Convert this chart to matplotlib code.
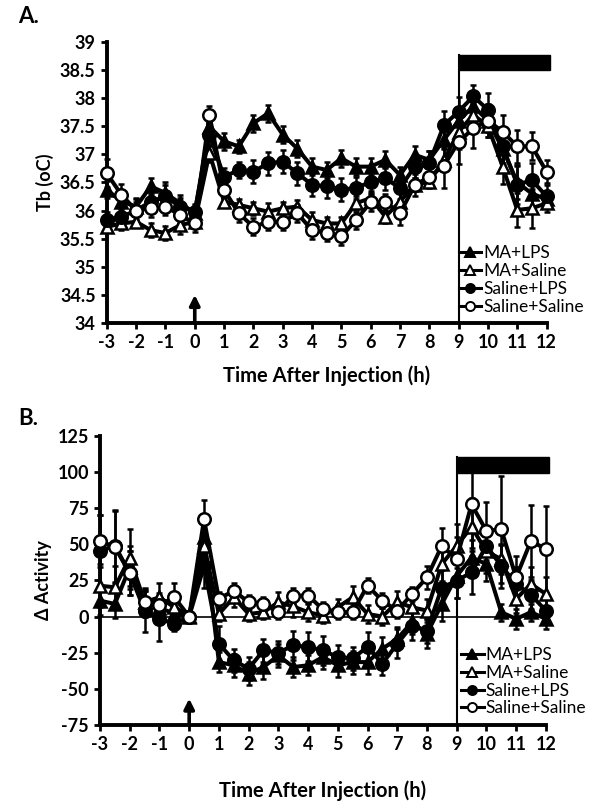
import matplotlib
matplotlib.use("Agg")
import matplotlib.pyplot as plt
from matplotlib.lines import Line2D
from matplotlib.patches import Rectangle

plt.rcParams['font.family'] = ['Lato', 'DejaVu Sans']

# ---------------- data ----------------
time_h = [-3, -2.5, -2, -1.5, -1, -0.5, 0, 0.5, 1, 1.5, 2, 2.5, 3, 3.5, 4,
          4.5, 5, 5.5, 6, 6.5, 7, 7.5, 8, 8.5, 9, 9.5, 10, 10.5, 11, 11.5, 12]
x_ticks = [-3, -2, -1, 0, 1, 2, 3, 4, 5, 6, 7, 8, 9, 10, 11, 12]
labels = ["MA+LPS", "MA+Saline", "Saline+LPS", "Saline+Saline"]

# Panel A: body temperature (Tb, oC)
tb_ma_lps = [36.37, 36.16, 36.07, 36.43, 36.31, 36.13, 35.96, 37.49, 37.23, 37.14, 37.55, 37.73, 37.35, 37.10, 36.78,
             36.72, 36.93, 36.78, 36.78, 36.90, 36.63, 36.99, 36.90, 37.26, 37.60, 37.85, 37.60, 37.10, 36.50, 36.30, 36.20]
tb_ma_sal = [35.71, 35.77, 35.80, 35.65, 35.60, 35.74, 35.80, 37.02, 36.16, 36.10, 36.04, 35.98, 36.04, 36.07, 35.83,
             35.77, 35.77, 36.13, 36.22, 35.89, 36.16, 36.46, 36.51, 36.90, 37.40, 37.70, 37.50, 36.78, 36.01, 36.04, 36.13]
tb_sal_lps = [35.83, 35.89, 36.00, 36.16, 36.25, 36.07, 35.98, 37.35, 36.60, 36.72, 36.69, 36.84, 36.87, 36.66, 36.46,
              36.43, 36.37, 36.40, 36.51, 36.57, 36.40, 36.78, 36.85, 37.52, 37.76, 38.03, 37.79, 37.14, 36.46, 36.54, 36.25]
tb_sal_sal = [36.66, 36.28, 36.00, 36.04, 36.07, 35.92, 35.77, 37.70, 36.37, 35.95, 35.71, 35.80, 35.80, 35.95, 35.65,
              35.60, 35.54, 35.83, 36.15, 36.15, 35.95, 36.45, 36.60, 36.80, 37.22, 37.46, 37.60, 37.40, 37.14, 37.14, 36.69]

err_tb_ma_lps = [0.15, 0.15, 0.15, 0.15, 0.2, 0.15, 0.15, 0.15, 0.15, 0.12, 0.15, 0.15, 0.15, 0.15, 0.15,
                 0.15, 0.15, 0.15, 0.15, 0.15, 0.15, 0.15, 0.15, 0.15, 0.2, 0.2, 0.2, 0.3, 0.3, 0.3, 0.15]
err_tb_ma_sal = [0.1, 0.12, 0.1, 0.12, 0.12, 0.15, 0.1, 0.15, 0.1, 0.1, 0.12, 0.15, 0.12, 0.12, 0.15,
                 0.12, 0.12, 0.12, 0.12, 0.12, 0.15, 0.12, 0.1, 0.2, 0.3, 0.2, 0.2, 0.3, 0.3, 0.35, 0.15]
err_tb_sal_lps = [0.15, 0.15, 0.15, 0.15, 0.2, 0.15, 0.12, 0.2, 0.15, 0.15, 0.2, 0.2, 0.2, 0.2, 0.2,
                  0.2, 0.2, 0.2, 0.2, 0.2, 0.2, 0.2, 0.2, 0.25, 0.25, 0.2, 0.3, 0.3, 0.35, 0.3, 0.2]
err_tb_sal_sal = [0.25, 0.2, 0.2, 0.15, 0.15, 0.15, 0.15, 0.15, 0.15, 0.15, 0.15, 0.15, 0.15, 0.15, 0.15,
                  0.15, 0.15, 0.15, 0.15, 0.15, 0.2, 0.2, 0.2, 0.4, 0.4, 0.35, 0.3, 0.3, 0.3, 0.25, 0.2]

# Panel B: delta activity
act_ma_lps = [11, 8.7, 34, 10, 6, 2, 0, 55, -31.5, -33.7, -39.5, -34.9, -26.9, -34.9, -33.7,
              -28, -33.7, -31.5, -31.5, -22.3, -15.4, -3.9, -11.9, 8.7, 28, 40.8, 36.3, 3, -1.6, 3, -1.6]
act_ma_sal = [21.3, 20.2, 40.8, 10, 13.3, 6.4, 0.7, 48.9, 1.8, 13.3, 1.8, 3, 9.9, 7, 3,
              0.7, 6.4, 13.3, 1.8, 0, 9.9, 6.4, 4.1, 36.3, 48.9, 62, 45, 39.7, 12.2, 22.5, 15.6]
act_sal_lps = [45.5, 48.9, 30, 4.1, -1.6, -5, 0, 35, -18.8, -30.3, -36, -23.4, -25, -20, -21,
               -23.4, -28, -29, -21, -32.6, -18.8, -6.2, -10, 20, 24.8, 30.5, 48.9, 35, 22.5, 15, 4.1]
act_sal_sal = [52.3, 48, 30, 9.9, 8, 13.3, 0, 67.3, 12.2, 17.9, 9.9, 8.7, 3, 14.5, 14.5,
               5, 3, 3, 21.3, 11, 4, 15.6, 27, 48.9, 39.7, 77.6, 59.2, 60.4, 27, 52.3, 46.6]

err_act_ma_lps = [10, 10, 15, 8, 8, 5, 3, 12, 7, 8, 8, 8, 8, 7, 7,
                  8, 8, 8, 8, 8, 8, 8, 10, 12, 15, 12, 12, 6, 7, 6, 7]
err_act_ma_sal = [15, 15, 20, 8, 10, 8, 3, 15, 5, 7, 5, 5, 7, 7, 6,
                  5, 6, 8, 6, 6, 8, 8, 8, 12, 15, 20, 15, 10, 10, 12, 12]
err_act_sal_lps = [25, 25, 15, 15, 15, 5, 3, 15, 12, 8, 8, 8, 8, 10, 10,
                   10, 8, 8, 10, 8, 10, 10, 8, 12, 12, 15, 12, 15, 12, 10, 8]
err_act_sal_sal = [18, 25, 15, 10, 8, 10, 3, 13, 5, 5, 5, 5, 5, 5, 5,
                   5, 5, 5, 5, 5, 5, 5, 8, 12, 15, 30, 20, 37, 15, 25, 30]

# ---------------- style ----------------
styles = [dict(marker='^', mfc='black'),
          dict(marker='^', mfc='white'),
          dict(marker='o', mfc='black'),
          dict(marker='o', mfc='white')]

TICK_FS = 13
LABEL_FS = 14.5


def draw_panel(ax, series, errs, ylim, yticks, ylabel, bar_y, arrow_y, zero_line, xlabel_pad, legend_anchor):
    if zero_line:
        ax.axhline(0, color='black', lw=1.2, zorder=1)
    for y, e, st in zip(series, errs, styles):
        ax.errorbar(time_h, y, yerr=e, color='black', lw=2.9, marker=st['marker'], ms=9,
                    mfc=st['mfc'], mec='black', mew=1.8, ecolor='black', elinewidth=1.8,
                    capsize=2.4, capthick=1.8, clip_on=False, zorder=3)
    ax.set_xlim(-3, 12)
    ax.set_ylim(*ylim)
    ax.set_xticks(x_ticks)
    ax.set_xticklabels([str(v) for v in x_ticks], fontweight='bold', fontsize=TICK_FS)
    ax.set_yticks(yticks)
    ax.set_yticklabels([("%g" % v) for v in yticks], fontweight='bold', fontsize=TICK_FS)
    for s in ['top', 'right']:
        ax.spines[s].set_visible(False)
    for s in ['left', 'bottom']:
        ax.spines[s].set_linewidth(2.8)
    ax.tick_params(direction='out', length=4, width=2, pad=4)
    ax.set_ylabel(ylabel, fontweight='bold', fontsize=LABEL_FS - 1.5)
    ax.set_xlabel('Time After Injection (h)', fontweight='bold', fontsize=LABEL_FS, labelpad=xlabel_pad)
    # dark-phase bar and separating line
    ax.plot([9, 9], [ylim[0], bar_y[1]], color='black', lw=1.5, zorder=2, clip_on=False)
    ax.add_patch(Rectangle((9, bar_y[0]), 3.1, bar_y[1] - bar_y[0], color='black', clip_on=False, zorder=4))
    # injection arrow
    ax.annotate('', xy=(0, arrow_y), xytext=(0, ylim[0]),
                arrowprops=dict(arrowstyle='-|>,head_length=0.6,head_width=0.3', lw=2.6, color='black',
                                shrinkA=0, shrinkB=0))
    handles = [Line2D([], [], color='black', lw=2.2, marker=st['marker'], ms=6.5, mfc=st['mfc'],
                      mec='black', mew=1.4) for st in styles]
    ax.legend(handles, labels, loc='lower left', bbox_to_anchor=legend_anchor, frameon=False,
              fontsize=12.5, handlelength=1.3, handletextpad=0.1, labelspacing=0.1,
              borderpad=0, borderaxespad=0)


fig = plt.figure(figsize=(6.0, 8.09), dpi=100)

axA = fig.add_axes([0.178, 0.6007, 0.733, 0.3477])
draw_panel(axA, [tb_ma_lps, tb_ma_sal, tb_sal_lps, tb_sal_sal],
           [err_tb_ma_lps, err_tb_ma_sal, err_tb_sal_lps, err_tb_sal_sal],
           (34, 39), [34, 34.5, 35, 35.5, 36, 36.5, 37, 37.5, 38, 38.5, 39], 'Tb (oC)',
           (38.49, 38.77), 34.5, False, 10, (0.80, 0.03))

axB = fig.add_axes([0.1667, 0.1038, 0.743, 0.3576])
draw_panel(axB, [act_ma_lps, act_ma_sal, act_sal_lps, act_sal_sal],
           [err_act_ma_lps, err_act_ma_sal, err_act_sal_lps, err_act_sal_sal],
           (-75, 125), [-75, -50, -25, 0, 25, 50, 75, 100, 125], '\u0394 Activity',
           (99, 110), -56.7, True, 20, (0.81, 0.03))

fig.text(0.030, 0.979, 'A.', fontweight='bold', fontsize=16, va='center', ha='left')
fig.text(0.030, 0.483, 'B.', fontweight='bold', fontsize=16, va='center', ha='left')

fig.savefig('out.png', dpi=100)
